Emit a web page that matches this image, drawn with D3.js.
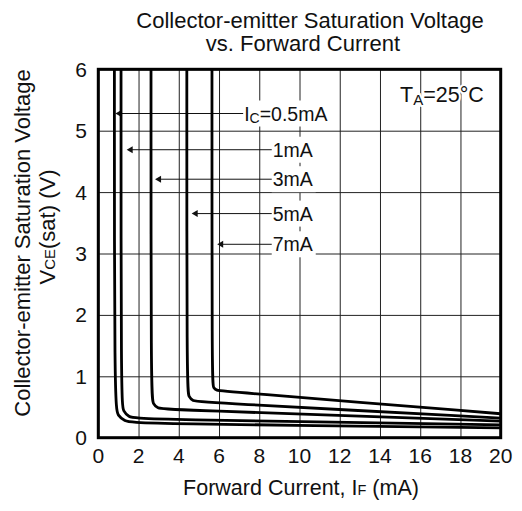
<!DOCTYPE html>
<html>
<head>
<meta charset="utf-8">
<script src="https://cdn.jsdelivr.net/npm/d3@7"></script>
<style>
  body { margin: 0; background: #fff; }
  text { font-family: "Liberation Sans", Arial, sans-serif; fill: #111; }
</style>
</head>
<body>
<div id="chart"></div>
<script>
// values (IF in mA, VCE(sat) in V)
const xTicks = [0, 2, 4, 6, 8, 10, 12, 14, 16, 18, 20];
const yTicks = [0, 1, 2, 3, 4, 5, 6];

const ic05 = [[0.80, 6], [0.80, 0.50], [0.98, 0.36], [1.3, 0.27], [1.75, 0.23], [20, 0.16]];
const ic1  = [[1.13, 6], [1.13, 0.56], [1.25, 0.43], [1.5, 0.34], [1.9, 0.30], [20, 0.21]];
const ic3  = [[2.62, 6], [2.62, 0.68], [2.72, 0.55], [2.95, 0.48], [3.3, 0.46], [20, 0.27]];
const ic5  = [[4.40, 6], [4.40, 0.79], [4.50, 0.66], [4.70, 0.60], [5.0, 0.58], [20, 0.32]];
const ic7  = [[5.65, 6], [5.65, 0.90], [5.72, 0.81], [5.9, 0.77], [6.1, 0.76], [20, 0.39]];

const labelNames = ["0.5mA", "1mA", "3mA", "5mA", "7mA"];
const labelV     = [5.28, 4.69, 4.21, 3.65, 3.15];
const arrowTip   = [0.85, 1.41, 2.82, 4.64, 5.91];
const labelStart = [7.2, 8.62, 8.62, 8.62, 8.62];

const width = 522, height = 511;
const margin = {top: 69.3, right: 21.3, bottom: 73.3, left: 98.3};

const svg = d3.select("#chart").append("svg")
    .attr("width", width)
    .attr("height", height);

const x = d3.scaleLinear().domain([0, 20]).range([margin.left, width - margin.right]);
const y = d3.scaleLinear().domain([0, 6]).range([height - margin.bottom, margin.top]);

// grid
svg.append("g")
    .attr("transform", "translate(0," + y(0) + ")")
    .call(d3.axisBottom(x).tickValues(xTicks).tickSize(-(y(0) - y(6))).tickFormat(""))
    .call(g => g.select(".domain").remove())
    .selectAll("line").attr("stroke", "#222").attr("stroke-width", 1);

svg.append("g")
    .attr("transform", "translate(" + x(0) + ",0)")
    .call(d3.axisLeft(y).tickValues(yTicks).tickSize(-(x(20) - x(0))).tickFormat(""))
    .call(g => g.select(".domain").remove())
    .selectAll("line").attr("stroke", "#222").attr("stroke-width", 1);

// tick labels
svg.append("g").selectAll("text")
    .data(xTicks)
  .enter().append("text")
    .attr("x", d => x(d))
    .attr("y", 463)
    .attr("text-anchor", "middle")
    .attr("font-size", 21)
    .text(d => d);

svg.append("g").selectAll("text")
    .data(yTicks)
  .enter().append("text")
    .attr("x", 87)
    .attr("y", d => y(d))
    .attr("dy", "0.36em")
    .attr("text-anchor", "end")
    .attr("font-size", 21)
    .text(d => d);

// label boxes (white, they break the grid) and arrows
const lab = svg.append("g");
lab.selectAll("rect")
    .data(labelNames)
  .enter().append("rect")
    .attr("x", (d, i) => x(labelStart[i]))
    .attr("y", (d, i) => y(labelV[i]) - 13)
    .attr("width", (d, i) => i == 0 ? 88 : 44)
    .attr("height", 26)
    .attr("fill", "#fff");

lab.selectAll("line")
    .data(labelNames)
  .enter().append("line")
    .attr("x1", (d, i) => x(arrowTip[i]) + 5)
    .attr("x2", (d, i) => x(labelStart[i]))
    .attr("y1", (d, i) => y(labelV[i]))
    .attr("y2", (d, i) => y(labelV[i]))
    .attr("stroke", "#111")
    .attr("stroke-width", 1);

lab.selectAll("path")
    .data(labelNames)
  .enter().append("path")
    .attr("d", (d, i) => {
        let tx = x(arrowTip[i]), ty = y(labelV[i]);
        return "M" + tx + "," + ty + "L" + (tx + 6) + "," + (ty - 3.5) + "L" + (tx + 6) + "," + (ty + 3.5) + "Z";
    })
    .attr("fill", "#111");

const lt = lab.selectAll("text")
    .data(labelNames)
  .enter().append("text")
    .attr("x", (d, i) => x(labelStart[i]) + 1)
    .attr("y", (d, i) => y(labelV[i]))
    .attr("dy", "0.36em")
    .attr("font-size", 19.5);
lt.each(function(d, i) {
    let t = d3.select(this);
    if (i == 0) {
        t.append("tspan").text("I");
        t.append("tspan").attr("font-size", 14).attr("dy", 2).text("C");
        t.append("tspan").attr("dy", -2).text("=" + d);
    } else {
        t.text(d);
    }
});

// curves
const line = d3.line()
    .x(d => x(d[0]))
    .y(d => y(d[1]))
    .curve(d3.curveBasis);

svg.append("g").selectAll("path")
    .data([ic05, ic1, ic3, ic5, ic7])
  .enter().append("path")
    .attr("d", line)
    .attr("fill", "none")
    .attr("stroke", "#000")
    .attr("stroke-width", 2.8);

// frame
svg.append("rect")
    .attr("x", x(0))
    .attr("y", y(6))
    .attr("width", x(20) - x(0))
    .attr("height", y(0) - y(6))
    .attr("fill", "none")
    .attr("stroke", "#000")
    .attr("stroke-width", 3);

// TA note
const ta = svg.append("text")
    .attr("x", 400)
    .attr("y", 102)
    .attr("font-size", 21.5)
    .attr("stroke", "#fff")
    .attr("stroke-width", 4)
    .attr("paint-order", "stroke");
ta.append("tspan").text("T");
ta.append("tspan").attr("font-size", 15).attr("dy", 3).text("A");
ta.append("tspan").attr("dy", -3).text("=25°C");

// titles
svg.append("text")
    .attr("x", 310).attr("y", 27.5)
    .attr("text-anchor", "middle")
    .attr("font-size", 22)
    .text("Collector-emitter Saturation Voltage");
svg.append("text")
    .attr("x", 303).attr("y", 51)
    .attr("text-anchor", "middle")
    .attr("font-size", 22)
    .text("vs. Forward Current");

const xl = svg.append("text")
    .attr("x", 301).attr("y", 495)
    .attr("text-anchor", "middle")
    .attr("font-size", 21.5);
xl.append("tspan").text("Forward Current, I");
xl.append("tspan").attr("font-size", 14.5).text("F");
xl.append("tspan").text(" (mA)");

svg.append("text")
    .attr("transform", "translate(30,243) rotate(-90)")
    .attr("text-anchor", "middle")
    .attr("font-size", 22)
    .text("Collector-emitter Saturation Voltage");

const yl = svg.append("text")
    .attr("transform", "translate(55,227) rotate(-90)")
    .attr("text-anchor", "middle")
    .attr("font-size", 22);
yl.append("tspan").text("V");
yl.append("tspan").attr("font-size", 15).text("CE");
yl.append("tspan").text("(sat) (V)");
</script>
</body>
</html>
